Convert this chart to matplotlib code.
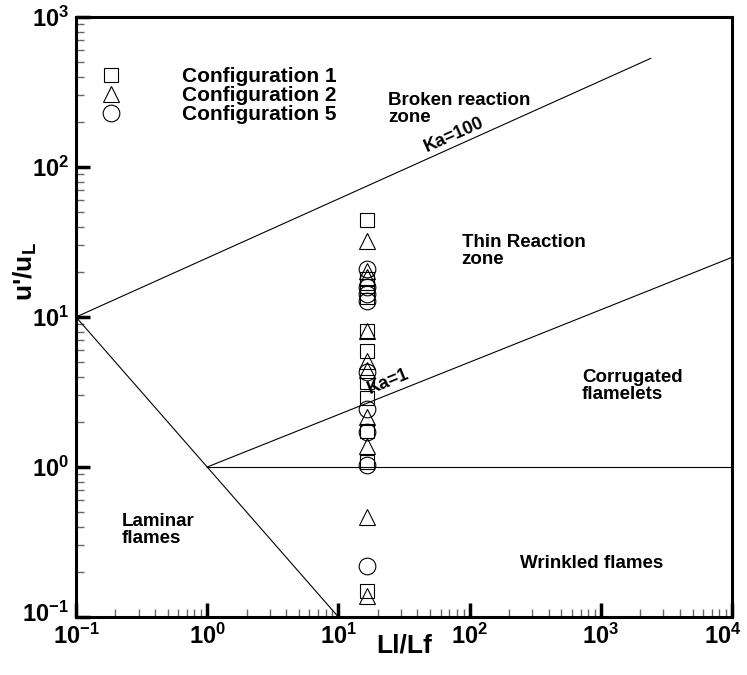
import matplotlib
matplotlib.use("Agg")
import matplotlib.pyplot as plt
from matplotlib.lines import Line2D
from matplotlib.transforms import ScaledTranslation

plt.rcParams["font.family"] = ["Liberation Sans", "DejaVu Sans"]
plt.rcParams["font.weight"] = "bold"
plt.rcParams["mathtext.fontset"] = "custom"
plt.rcParams["mathtext.rm"] = "Liberation Sans:bold"
plt.rcParams["mathtext.it"] = "Liberation Sans:bold"
plt.rcParams["mathtext.bf"] = "Liberation Sans:bold"
plt.rcParams["mathtext.default"] = "rm"
plt.rcParams["axes.unicode_minus"] = False

# Regime boundaries (Ll/Lf, u'/uL)
ka100_x = [0.1, 2400]
ka100_y = [10, 530]
ka1_x = [1, 1e4]
ka1_y = [1, 25]
laminar_x = [0.1, 10]
laminar_y = [10, 0.1]
wrinkled_x = [1, 1e4]
wrinkled_y = [1, 1]

# Measured cases, all at the same length-scale ratio
case_x = 16.5
config1_y = [44.5, 17.9, 16.1, 13.6, 8.1, 5.9, 3.7, 2.9, 1.74, 1.08, 0.149]
config2_y = [32.3, 20.4, 18.5, 8.1, 5.1, 4.4, 2.15, 1.38, 0.464, 0.138]
config5_y = [20.9, 15.8, 14.2, 12.8, 4.3, 2.44, 1.71, 1.03, 0.219]

labels = ["Configuration 1", "Configuration 2", "Configuration 5"]

fig = plt.figure(figsize=(7.47, 6.75), dpi=100)
ax = fig.add_axes([0.1017, 0.0859, 0.8783, 0.8889])
ax.set_xscale("log")
ax.set_yscale("log")
ax.set_xlim(0.1, 1e4)
ax.set_ylim(0.1, 1e3)

lw = 0.8
ax.plot(ka100_x, ka100_y, color="black", lw=lw)
ax.plot(ka1_x, ka1_y, color="black", lw=lw)
ax.plot(laminar_x, laminar_y, color="black", lw=lw)
ax.plot(wrinkled_x, wrinkled_y, color="black", lw=lw)

mk = dict(ls="none", mfc="none", mec="black", mew=0.8)
ax.plot([case_x] * len(config1_y), config1_y, marker="s", ms=10, **mk)
ax.plot([case_x] * len(config2_y), config2_y, marker="^", ms=11, **mk)
ax.plot([case_x] * len(config5_y), config5_y, marker="o", ms=12, **mk)

handles = [
    Line2D([], [], marker="s", ms=10, **mk),
    Line2D([], [], marker="^", ms=11, **mk),
    Line2D([], [], marker="o", ms=12, **mk),
]
ax.legend(handles, labels, loc="upper left", bbox_to_anchor=(0.025, 0.93),
          frameon=False, fontsize=15, handlelength=1.0, handletextpad=2.9,
          labelspacing=0.0, borderaxespad=0.0)

fs = 13.5
ax.text(24, 316, "Broken reaction\nzone", fontsize=fs, ha="left", va="top",
        linespacing=1.0)
ax.text(87, 35.7, "Thin Reaction\nzone", fontsize=fs, ha="left", va="top",
        linespacing=1.0)
ax.text(719, 4.5, "Corrugated\nflamelets", fontsize=fs, ha="left", va="top",
        linespacing=1.0)
ax.text(0.224, 0.49, "Laminar\nflames", fontsize=fs, ha="left", va="top",
        linespacing=1.0)
ax.text(242, 0.226, "Wrinkled flames", fontsize=fs, ha="left", va="center")
ax.text(76, 163, "Ka=100", fontsize=13, ha="center", va="center", rotation=24)
ax.text(24, 3.7, "Ka=1", fontsize=13, ha="center", va="center", rotation=22)

ax.set_xlabel("Ll/Lf", fontsize=19, fontweight="bold")
ax.set_ylabel("u'/u$_L$", fontsize=19, fontweight="bold")
ax.xaxis.set_label_coords(0.5, -0.027)
ax.xaxis.label.set_va("top")
ax.yaxis.set_label_coords(-0.056, 0.575)

for side in ["left", "bottom", "right", "top"]:
    ax.spines[side].set_linewidth(2.2)

ax.set_xticks([0.1, 1, 10, 100, 1000, 10000])
ax.set_yticks([0.1, 1, 10, 100, 1000])
ax.tick_params(which="major", direction="in", length=10, width=2.5,
               labelsize=17, pad=5, top=False, right=False)
ax.tick_params(which="minor", direction="in", length=5.5, width=1,
               color="0.4", top=False, right=False)

fig.canvas.draw()
# nudge the corner labels so they stay clear of the edge and of each other
last = ax.get_xticklabels()[-1]
last.set_transform(last.get_transform() + ScaledTranslation(-7 / 72, 0, fig.dpi_scale_trans))
first_y = ax.get_yticklabels()[0]
first_y.set_transform(first_y.get_transform() + ScaledTranslation(0, 4 / 72, fig.dpi_scale_trans))

fig.savefig("out.png", dpi=100)
